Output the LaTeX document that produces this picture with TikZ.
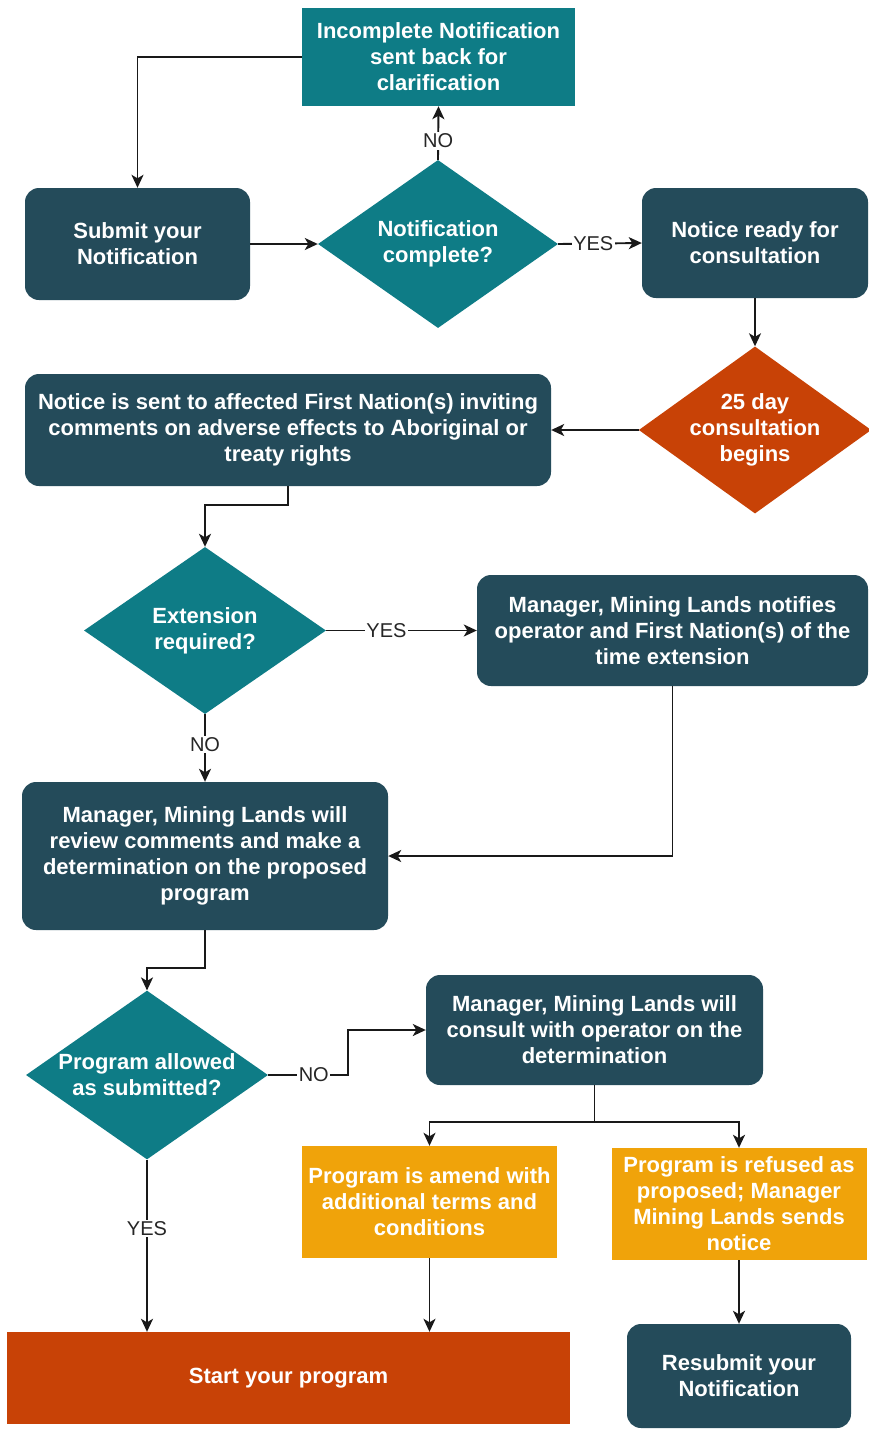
\documentclass[tikz,border=0pt]{standalone}
\usepackage{fontspec}
\setmainfont{Liberation Sans}
\usetikzlibrary{shapes.geometric,arrows.meta}
\definecolor{darkbox}{HTML}{244B5A}
\definecolor{tealbox}{HTML}{0E7C86}
\definecolor{orangebox}{HTML}{C84206}
\definecolor{yellowbox}{HTML}{F0A30A}
\tikzset{
  basebox/.style={inner sep=2pt, align=center, text=white,
    font=\fontsize{22}{26}\selectfont\bfseries},
  darkrect/.style={basebox, fill=darkbox, rounded corners=14pt},
  tealrect/.style={basebox, fill=tealbox},
  yellowrect/.style={basebox, fill=yellowbox},
  orangerect/.style={basebox, fill=orangebox},
  decision/.style={basebox, diamond, inner sep=0pt, aspect=1.4},
  arr/.style={draw=black!90, line width=1.9pt, -{Stealth[length=13pt,width=12pt,inset=3.5pt]}},
  lbl/.style={fill=white, inner sep=1.5pt, font=\fontsize{20}{22}\selectfont, text=black!85}
}
\begin{document}
\begin{tikzpicture}[x=1pt,y=-1pt]
\useasboundingbox (0,0) rectangle (869,1430);
\fill[white] (0,0) rectangle (869,1430);

\node[tealrect, minimum width=273pt, minimum height=98pt] (inc) at (438.5,57)
  {Incomplete Notification\\sent back for\\clarification};
\node[darkrect, minimum width=225pt, minimum height=112pt] (sub) at (137.5,244)
  {Submit your\\Notification};
\node[decision, fill=tealbox, minimum width=240pt, minimum height=168pt] (dec1) at (438,244)
  {Notification\\complete?};
\node[darkrect, minimum width=226pt, minimum height=110pt] (ready) at (755,243)
  {Notice ready for\\consultation};
\node[decision, fill=orangebox, minimum width=230pt, minimum height=167pt] (d25) at (755,430)
  {25 day\\consultation\\begins};
\node[darkrect, minimum width=526pt, minimum height=112pt] (sent) at (288,430)
  {Notice is sent to affected First Nation(s) inviting\\comments on adverse effects to Aboriginal or\\treaty rights};
\node[decision, fill=tealbox, minimum width=242pt, minimum height=167pt] (ext) at (205,630.5)
  {Extension\\required?};
\node[darkrect, minimum width=391pt, minimum height=111pt] (notif) at (672.5,630.5)
  {Manager, Mining Lands notifies\\operator and First Nation(s) of the\\time extension};
\node[darkrect, minimum width=366pt, minimum height=148pt] (review) at (205,856)
  {Manager, Mining Lands will\\review comments and make a\\determination on the proposed\\program};
\node[decision, fill=tealbox, minimum width=242pt, minimum height=166pt] (allowed) at (147,1075)
  {Program allowed\\as submitted?};
\node[darkrect, minimum width=337pt, minimum height=110pt] (consult) at (594.5,1030)
  {Manager, Mining Lands will\\consult with operator on the\\determination};
\node[yellowrect, minimum width=255pt, minimum height=112pt] (amend) at (429.5,1202)
  {Program is amend with\\additional terms and\\conditions};
\node[yellowrect, minimum width=255pt, minimum height=112pt] (refused) at (739,1204)
  {Program is refused as\\proposed; Manager\\Mining Lands sends\\notice};
\node[orangerect, minimum width=563pt, minimum height=92pt] (start) at (288.5,1378)
  {Start your program};
\node[darkrect, minimum width=224pt, minimum height=104pt] (resub) at (739,1376)
  {Resubmit your\\Notification};

\draw[arr] (inc.west) -| (sub.north);
\draw[arr] (dec1.north) -- node[lbl, pos=0.35]{NO} (inc.south);
\draw[arr] (sub.east) -- (dec1.west);
\draw[arr] (dec1.east) -- node[lbl, pos=0.42]{YES} (ready.west);
\draw[arr] (ready.south) -- (d25.north);
\draw[arr] (d25.west) -- (sent.east);
\draw[arr] (sent.south) -- ++(0,19) -| (ext.north);
\draw[arr] (ext.east) -- node[lbl, pos=0.4]{YES} (notif.west);
\draw[arr] (ext.south) -- node[lbl, pos=0.45]{NO} (review.north);
\draw[arr] (notif.south) |- (review.east);
\draw[arr] (review.south) -- ++(0,38) -| (allowed.north);
\draw[arr] (allowed.east) -- node[lbl, pos=0.57]{NO} ++(80,0) |- (consult.west);
\draw[arr] (allowed.south) -- node[lbl, pos=0.4]{YES} (allowed.south |- start.north);
\draw[arr] (consult.south) -- ++(0,37) -| (amend.north);
\draw[arr] (consult.south) -- ++(0,37) -| (refused.north);
\draw[arr] (amend.south) -- (amend.south |- start.north);
\draw[arr] (refused.south) -- (resub.north);
\end{tikzpicture}
\end{document}
